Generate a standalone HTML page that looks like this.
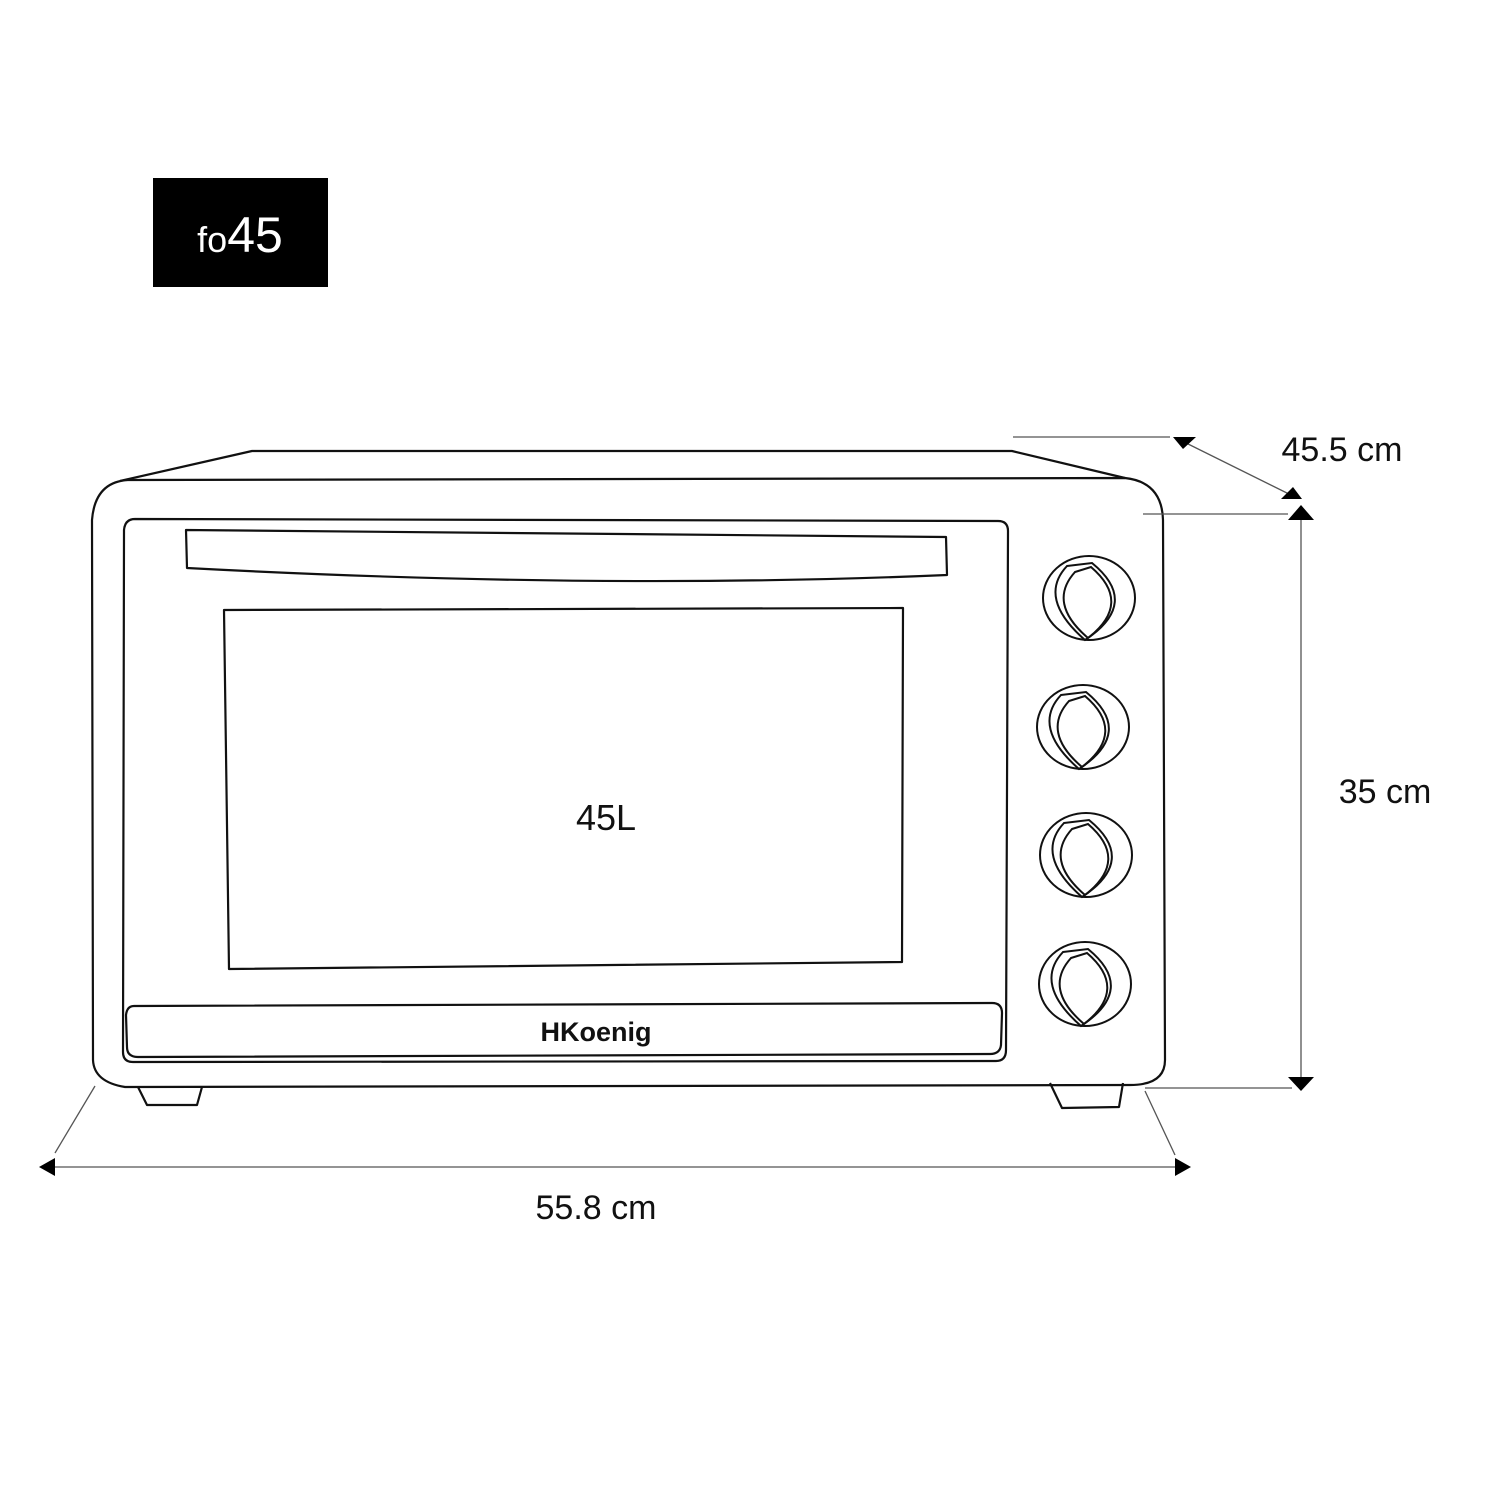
<!DOCTYPE html>
<html><head><style>html,body{margin:0;padding:0;background:#fff;width:1500px;height:1500px;overflow:hidden}</style></head>
<body>
<svg width="1500" height="1500" viewBox="0 0 1500 1500" xmlns="http://www.w3.org/2000/svg">
<defs>
<g id="knob" fill="none" stroke="#111" stroke-width="2">
<ellipse cx="0" cy="0" rx="46" ry="42"/>
<path d="M-22,-32 L3,-35 Q52,5 -4,42 Q-52,0 -22,-32 Z"/>
<path d="M-14,-26 L2,-31 Q44,5 -1,40 Q-42,5 -14,-26 Z"/>
</g>
</defs>
<rect x="153" y="178" width="175" height="109" fill="#000"/>
<text x="240" y="252" fill="#fff" font-family="Liberation Sans, sans-serif" text-anchor="middle"><tspan font-size="36">fo</tspan><tspan font-size="50">45</tspan></text>

<g fill="none" stroke="#111" stroke-width="2.2" stroke-linejoin="round">
<path d="M120,481 L252,451 L1012,451 L1125,478"/>
<path d="M128,480 L1125,478 Q1162,482 1163,520 L1165,1060 Q1165,1085 1130,1085 L125,1087 Q94,1082 93,1060 L92,520 Q95,482 128,480 Z"/>
<path d="M138,1087 L147,1105 L197,1105 L202,1087"/>
<path d="M1050,1083 L1062,1108 L1119,1107 L1123,1083"/>
<path d="M135,519 L998,521 Q1008,521 1008,531 L1006,1050 Q1006,1061 996,1061 L133,1062 Q123,1062 123,1052 L124,530 Q125,519 135,519 Z"/>
<path d="M186,530 L946,537 L947,575 Q600,590 187,568 Z"/>
<path d="M224,610 L903,608 L902,962 L229,969 Z"/>
<path d="M134,1006 L992,1003 Q1002,1003 1002,1013 L1001,1045 Q1000,1054 990,1054 L138,1057 Q127,1057 127,1047 L126,1015 Q127,1006 134,1006 Z"/>
</g>
<use href="#knob" x="1089" y="598"/>
<use href="#knob" x="1083" y="727"/>
<use href="#knob" x="1086" y="855"/>
<use href="#knob" x="1085" y="984"/>

<g stroke="#555" stroke-width="1.3" fill="none">
<line x1="1013" y1="437" x2="1170" y2="437"/>
<line x1="1180" y1="440" x2="1295" y2="497"/>
<line x1="1143" y1="514" x2="1288" y2="514"/>
<line x1="1301" y1="512" x2="1301" y2="1082"/>
<line x1="1145" y1="1088" x2="1292" y2="1088"/>
<line x1="44" y1="1167" x2="1186" y2="1167"/>
<line x1="95" y1="1086" x2="55" y2="1153"/>
<line x1="1145" y1="1091" x2="1175" y2="1155"/>
</g>
<g fill="#000">
<polygon points="1173,437 1196,437 1183,449"/>
<polygon points="1281,499 1302,499 1293,487"/>
<polygon points="1288,520 1314,520 1301,505"/>
<polygon points="1288,1077 1314,1077 1301,1091"/>
<polygon points="39,1167 55,1158 55,1176"/>
<polygon points="1191,1167 1175,1158 1175,1176"/>
</g>
<g font-family="Liberation Sans, sans-serif" fill="#111">
<text x="1342" y="461" font-size="34" text-anchor="middle">45.5 cm</text>
<text x="1385" y="803" font-size="34" text-anchor="middle">35 cm</text>
<text x="596" y="1219" font-size="34" text-anchor="middle">55.8 cm</text>
<text x="606" y="830" font-size="36" text-anchor="middle">45L</text>
<text x="596" y="1041" font-size="27" font-weight="bold" text-anchor="middle">HKoenig</text>
</g>
</svg>
</body></html>
